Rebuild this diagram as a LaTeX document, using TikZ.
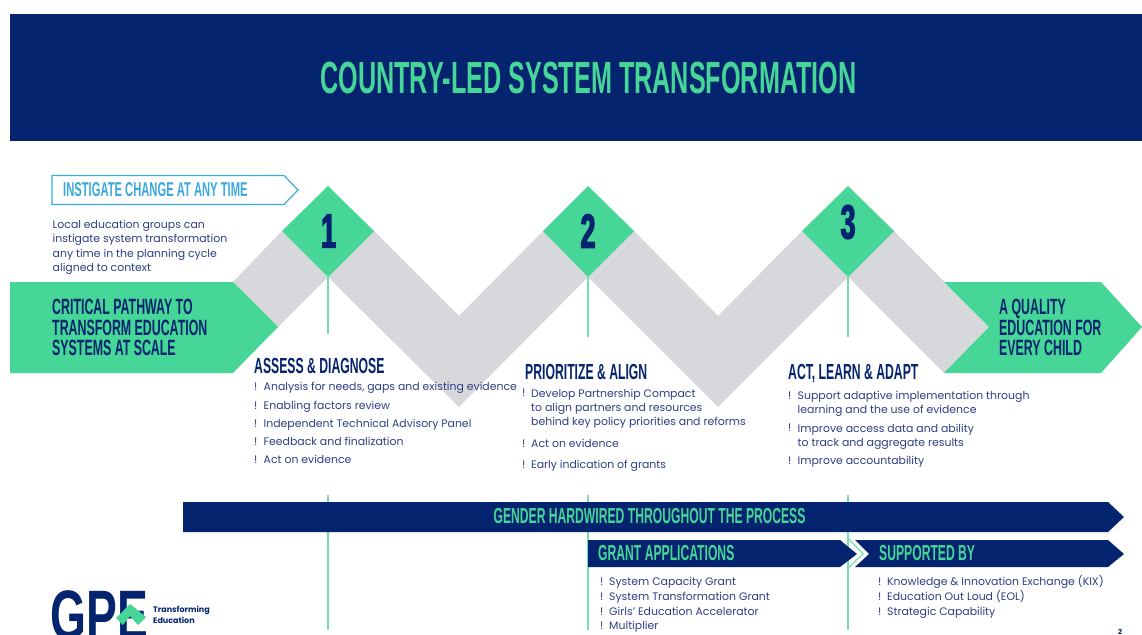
\documentclass[tikz,border=0pt]{standalone}
\usepackage{fontspec}
\setmainfont{Poppins}
\newfontfamily\cond[FakeStretch=0.56]{Liberation Sans}[BoldFont=Liberation Sans Bold]
\newfontfamily\numfont[FakeStretch=0.56,FakeBold=2.5]{Liberation Sans Bold}
\newfontfamily\logofont[FakeStretch=0.66]{Liberation Sans}[BoldFont=Liberation Sans Bold]
\definecolor{navy}{HTML}{05246F}
\definecolor{mint}{HTML}{46D698}
\definecolor{greyband}{HTML}{D7D8DC}
\definecolor{sky}{HTML}{3BA9E0}
\definecolor{bodyblue}{HTML}{2E3F85}
\tikzset{
  head/.style={font=\cond\bfseries\fontsize{21.8}{21.8}\selectfont,text=navy,anchor=west,inner sep=0pt},
  lead/.style={font=\cond\bfseries\fontsize{22.1}{20.6}\selectfont,text=navy,anchor=west,inner sep=0pt,align=left},
  bar/.style={font=\cond\bfseries\fontsize{21.7}{21.7}\selectfont,text=mint,inner sep=0pt},
  body/.style={font=\fontsize{10.9}{14.4}\selectfont,text=bodyblue,anchor=base west,inner sep=0pt,align=left},
  para/.style={body,anchor=north west},
  bang/.style={font=\fontsize{10.9}{14.4}\selectfont,text=bodyblue,anchor=base west,inner sep=0pt},
  stem/.style={draw=mint!75,line width=1.2pt},
  num/.style={font=\numfont\fontsize{48}{48}\selectfont,text=navy,inner sep=0pt},
}
\begin{document}
\begin{tikzpicture}[x=1pt,y=-1pt]
\useasboundingbox (0,0) rectangle (1142,634);
\clip (0,0) rectangle (1142,634);
\fill[white] (0,0) rectangle (1142,634);
% header
\fill[navy] (10,14) rectangle (1142,141);
\node[font=\cond\bfseries\fontsize{45}{45}\selectfont,text=mint,inner sep=0pt] (title) at (588.5,78) {COUNTRY-LED SYSTEM TRANSFORMATION};
% grey band
\fill[greyband] (233,282) -- (282,231) -- (374,231) -- (459,316) -- (543,231) -- (634,231) -- (718,316) -- (802,231) -- (894,231) -- (989,327) -- (944,373)
  -- (848,277) -- (718,407) -- (588,277) -- (459,407) -- (328,277) -- (278,327) -- cycle;
% diamonds
\fill[mint] (328,186) -- (374,231) -- (328,277) -- (282,231) -- cycle;
\fill[mint] (588,186) -- (634,231) -- (588,277) -- (543,231) -- cycle;
\fill[mint] (848,186) -- (894,231) -- (848,277) -- (802,231) -- cycle;
\coordinate (d1) at (328,277);
\coordinate (d2) at (588,277);
\coordinate (d3) at (848,277);
\node[num] (n1) at (328.5,231) {1};
\node[num] (n2) at (588,231) {2};
\node[num] (n3) at (848,222) {3};
% stems
\coordinate (s1) at (328,334);
\coordinate (s2) at (588,337);
\coordinate (s3) at (848,337);
\draw[stem] (d1) -- (s1);
\draw[stem] (d2) -- (s2);
\draw[stem] (d3) -- (s3);
\coordinate (l1a) at (328,495);
\coordinate (l1b) at (328,630);
\coordinate (l2a) at (588,495);
\coordinate (l2b) at (588,630);
\coordinate (l3a) at (848,495);
\coordinate (l3b) at (848,630);
\draw[stem] (l1a) -- (l1b);
\draw[stem] (l2a) -- (l2b);
\draw[stem] (l3a) -- (l3b);
% arrows
\fill[mint] (10,282) -- (233,282) -- (278,327) -- (233,373) -- (10,373) -- cycle;
\fill[mint] (944,282) -- (1101,282) -- (1142,327) -- (1101,373) -- (944,373) -- (989,327) -- cycle;
\node[lead] (crit) at (52,327.5) {CRITICAL PATHWAY TO\\TRANSFORM EDUCATION\\SYSTEMS AT SCALE};
\node[lead] (qual) at (999,327.5) {A QUALITY\\EDUCATION FOR\\EVERY CHILD};
% instigate
\draw[sky,line width=1.2pt,fill=white] (52,175.5) -- (284,175.5) -- (298,190) -- (284,204.5) -- (52,204.5) -- cycle;
\node[font=\cond\bfseries\fontsize{20}{20}\selectfont,text=sky,anchor=west,inner sep=0pt] (inst) at (63,189.5) {INSTIGATE CHANGE AT ANY TIME};
\node[para] (loc) at (52.5,220) {Local education groups can\\instigate system transformation\\any time in the planning cycle\\aligned to context};
% section heads
\node[head] (h1) at (254,366) {ASSESS \& DIAGNOSE};
\node[head] (h2) at (525,372) {PRIORITIZE \& ALIGN};
\node[head] (h3) at (788,374) {ACT, LEARN \& ADAPT};
% column 1
\foreach \y/\t [count=\i] in {{390.7/Analysis for needs, gaps and existing evidence},409.3/Enabling factors review,427.3/Independent Technical Advisory Panel,445.7/Feedback and finalization,463.7/Act on evidence}{
  \node[bang] (ba\i) at (254,\y) {!};
  \node[body] (ta\i) at (263.5,\y) {\t};
}
% column 2
\node[bang] (bb1) at (522,396.7) {!};
\node[para] (tb1) at (531,388.5) {Develop Partnership Compact\\to align partners and resources\\behind key policy priorities and reforms};
\node[bang] (bb2) at (522,447) {!};
\node[body] (tb2) at (531,447) {Act on evidence};
\node[bang] (bb3) at (522,468.7) {!};
\node[body] (tb3) at (531,468.7) {Early indication of grants};
% column 3
\node[bang] (bc1) at (788,399) {!};
\node[para] (tc1) at (797.5,390.8) {Support adaptive implementation through\\learning and the use of evidence};
\node[bang] (bc2) at (788,431.7) {!};
\node[para] (tc2) at (797.5,423.5) {Improve access data and ability\\to track and aggregate results};
\node[bang] (bc3) at (788,464) {!};
\node[body] (tc3) at (797.5,464) {Improve accountability};
% bars
\fill[navy] (183,502) -- (1108,502) -- (1124,517) -- (1108,532) -- (183,532) -- cycle;
\node[bar] (gender) at (649.5,516.5) {GENDER HARDWIRED THROUGHOUT THE PROCESS};
\draw[stem] (848,532) -- (848,538) -- (863,554) -- (848,568);
\fill[navy] (588,540) -- (840,540) -- (857,554) -- (840,567) -- (588,567) -- cycle;
\node[bar,anchor=west] (grant) at (598,553.5) {GRANT APPLICATIONS};
\fill[navy] (855,540) -- (1108,540) -- (1124,554) -- (1108,567) -- (855,567) -- (869,554) -- cycle;
\node[bar,anchor=west] (supp) at (879,553.5) {SUPPORTED BY};
% lists
\foreach \y/\t [count=\i] in {585.7/System Capacity Grant,600.3/System Transformation Grant,615/Girls' Education Accelerator,629.3/Multiplier}{
  \node[bang] (bd\i) at (600,\y) {!};
  \node[body] (td\i) at (609,\y) {\t};
}
\foreach \y/\t [count=\i] in {585.7/Knowledge \& Innovation Exchange (KIX),600.3/Education Out Loud (EOL),615/Strategic Capability}{
  \node[bang] (be\i) at (878,\y) {!};
  \node[body] (te\i) at (887,\y) {\t};
}
% logo
\node[font=\logofont\bfseries\fontsize{70}{70}\selectfont,text=navy,anchor=base west,inner sep=0pt] (gpe) at (50.5,639) {GPE};
\fill[mint] (116,618) -- (130,604) -- (146,617) -- (138,625) -- (130,616) -- (123,625) -- cycle;
\node[font=\bfseries\fontsize{8}{11}\selectfont,text=navy,anchor=west,align=left,inner sep=0pt] (tag) at (153,614.5) {Transforming\\Education};
\node[font=\bfseries\fontsize{7}{7}\selectfont,text=navy,inner sep=0pt] (page) at (1120,632) {2};
\end{tikzpicture}
\end{document}
